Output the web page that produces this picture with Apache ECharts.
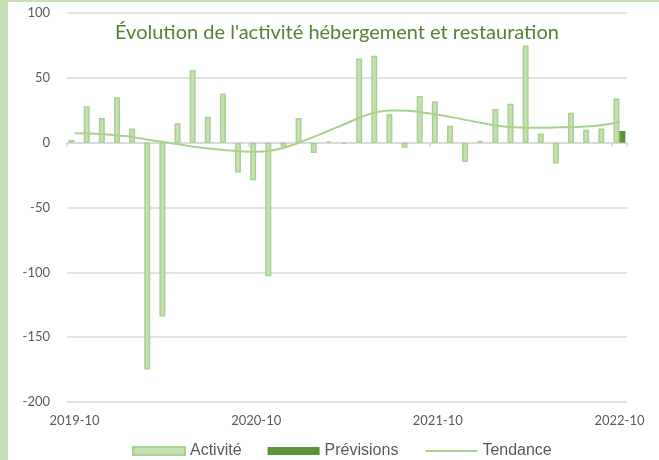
<!DOCTYPE html>
<html>
<head>
<meta charset="utf-8">
<script src="https://cdn.jsdelivr.net/npm/echarts@6/dist/echarts.min.js"></script>
<style>
  html, body { margin: 0; padding: 0; background: #fff; }
  #chart { width: 659px; height: 460px; }
</style>
</head>
<body>
<div id="chart"></div>
<script>
// mois de 2019-10 à 2022-10
const months = [
  '2019-10','2019-11','2019-12','2020-01','2020-02','2020-03','2020-04','2020-05','2020-06','2020-07','2020-08','2020-09',
  '2020-10','2020-11','2020-12','2021-01','2021-02','2021-03','2021-04','2021-05','2021-06','2021-07','2021-08','2021-09',
  '2021-10','2021-11','2021-12','2022-01','2022-02','2022-03','2022-04','2022-05','2022-06','2022-07','2022-08','2022-09',
  '2022-10'
];

const activite = [
  2, 28, 19, 35, 11, -175, -134, 15, 56, 20, 38, -23,
  -29, -103, -3, 19, -8, 1, -1, 65, 67, 22, -4, 36,
  32, 13, -15, 1.5, 26, 30, 75, 7, -16, 23, 10, 11,
  34
];

const previsions = [
  null, null, null, null, null, null, null, null, null, null, null, null,
  null, null, null, null, null, null, null, null, null, null, null, null,
  null, null, null, null, null, null, null, null, null, null, null, null,
  9
];

const tendance = [
  7.2, 7, 6.5, 5.4, 4, 2, 0.3, -1.5, -3.3, -4.6, -5.9, -6.7,
  -7, -6, -3.3, 0.8, 5.4, 10.3, 15, 20, 23.6, 24.9, 24.6, 23.3,
  21.5, 19.5, 17.2, 14.9, 13, 11.8, 11.5, 11.5, 11.8, 12, 12.6, 13.8,
  16.2
];

const chart = echarts.init(document.getElementById('chart'));

const option = {
  animation: false,
  graphic: [
    { type: 'rect', shape: { x: 0, y: 0, width: 8, height: 460 }, style: { fill: '#c5e0b4' } },
    { type: 'rect', shape: { x: 0, y: 0, width: 659, height: 2 }, style: { fill: '#c5e0b4' } }
  ],
  title: {
    text: "Évolution de l'activité hébergement et restauration",
    left: 110,
    top: 18,
    textStyle: { color: '#548235', fontFamily: 'Lato', fontSize: 20, fontWeight: 'normal' }
  },
  legend: {
    bottom: 1,
    left: 132,
    padding: 0,
    itemWidth: 52,
    itemHeight: 8,
    itemGap: 26,
    textStyle: { color: '#595959', fontFamily: 'Liberation Sans', fontSize: 16 },
    data: [
      { name: 'Activité', icon: 'rect' },
      { name: 'Prévisions', icon: 'rect' },
      { name: 'Tendance', itemStyle: { opacity: 0 } }
    ]
  },
  grid: { left: 67, right: 32, top: 13, bottom: 58 },
  xAxis: [
    {
      type: 'category',
      data: months,
      boundaryGap: true,
      axisLine: { onZero: true, lineStyle: { color: '#d9d9d9', width: 1.5 } },
      axisTick: { show: true, interval: 11, length: 4, lineStyle: { color: '#d9d9d9', width: 1.5 } },
      axisLabel: { show: false },
      splitLine: { show: false }
    },
    {
      type: 'category',
      data: months,
      position: 'bottom',
      boundaryGap: true,
      axisLine: { show: false, onZero: false },
      axisTick: { show: false },
      axisLabel: {
        interval: 11,
        margin: 12,
        color: '#595959',
        fontFamily: 'Lato',
        fontSize: 13
      },
      splitLine: { show: false }
    }
  ],
  yAxis: {
    type: 'value',
    min: -200,
    max: 100,
    interval: 50,
    axisLine: { show: false },
    axisTick: { show: false },
    axisLabel: { color: '#595959', fontFamily: 'Lato', fontSize: 13, margin: 17 },
    splitLine: { lineStyle: { color: '#d9d9d9', width: 1.5 } }
  },
  series: [
    {
      name: 'Activité',
      type: 'bar',
      barWidth: 6,
      barGap: '0%',
      itemStyle: { color: '#c5e0b4', borderColor: '#a9d18e', borderWidth: 1.5 },
      data: activite
    },
    {
      name: 'Prévisions',
      type: 'bar',
      barWidth: 6,
      barGap: '0%',
      itemStyle: { color: '#5b9437' },
      data: previsions
    },
    {
      name: 'Tendance',
      type: 'line',
      smooth: true,
      showSymbol: false,
      symbol: 'none',
      lineStyle: { color: '#a9d18e', width: 2 },
      itemStyle: { color: '#a9d18e' },
      data: tendance
    }
  ]
};

chart.setOption(option);
</script>
</body>
</html>
